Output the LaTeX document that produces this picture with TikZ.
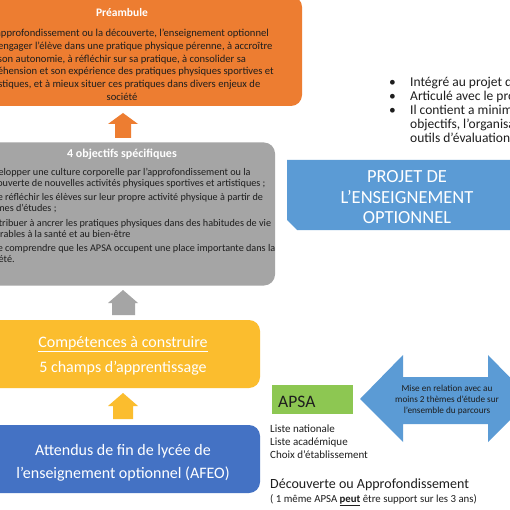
\documentclass[tikz,border=0pt]{standalone}
\usepackage{fontspec}
\setmainfont{Carlito}
\newcommand{\myul}[1]{\underline{#1}}
\definecolor{orangeC}{HTML}{ED7D31}
\definecolor{grayC}{HTML}{A5A5A5}
\definecolor{yellowC}{HTML}{FBBD2E}
\definecolor{blueD}{HTML}{4472C4}
\definecolor{blueL}{HTML}{5B9BD5}
\definecolor{greenC}{HTML}{8DC752}
\definecolor{txt}{HTML}{1E1E1E}
\tikzset{
  box/.style={rounded corners=11pt, inner sep=0pt},
  lbl/.style={inner sep=0pt}
}
\begin{document}
\begin{tikzpicture}[x=1pt,y=-1pt]
\useasboundingbox (0,0) rectangle (510,510);
\clip (0,0) rectangle (510,510);
\fill[white] (0,0) rectangle (510,510);

% Preambule box
\node[box, fill=orangeC, minimum width=360pt, minimum height=110pt] (pre) at (122,51) {};
\node[lbl, anchor=base, text=white, font=\fontsize{11.5}{13}\selectfont\bfseries] (pretitle) at (122,17) {Préambule};
\node[lbl, anchor=base, align=center, text=txt, font=\fontsize{10.6}{12.8}\selectfont] (pretext) at (122,100.5) {Par l’approfondissement ou la découverte, l’enseignement optionnel\\
vise à engager l’élève dans une pratique physique pérenne, à accroître\\
son autonomie, à réfléchir sur sa pratique, à consolider sa\\
compréhension et son expérience des pratiques physiques sportives et\\
artistiques, et à mieux situer ces pratiques dans divers enjeux de\\
société};

% up arrows
\fill[orangeC] (123,113) -- (138,124) -- (131,124) -- (131,138) -- (115,138) -- (115,124) -- (108,124) -- cycle;

% objectifs box
\node[box, fill=grayC, minimum width=310pt, minimum height=143pt] (obj) at (120,214) {};
\node[lbl, anchor=base, text=white, font=\fontsize{12}{13}\selectfont\bfseries] (objtitle) at (122,157.5) {4 objectifs spécifiques};
\node[lbl, anchor=base west, align=left, text=txt, font=\fontsize{10.2}{11}\selectfont] (objtext) at (-17.5,262.5) {Développer une culture corporelle par l’approfondissement ou la\\
découverte de nouvelles activités physiques sportives et artistiques ;\\[3.5pt]
Faire réfléchir les élèves sur leur propre activité physique à partir de\\
thèmes d’études ;\\[3.5pt]
Contribuer à ancrer les pratiques physiques dans des habitudes de vie\\
favorables à la santé et au bien-être\\[3.5pt]
Faire comprendre que les APSA occupent une place importante dans la\\
société.};

\fill[grayC] (123,290) -- (138,303) -- (135,303) -- (135,315) -- (112,315) -- (112,303) -- (108,303) -- cycle;

% competences box
\node[box, fill=yellowC, minimum width=276pt, minimum height=68pt] (comp) at (122,354) {};
\node[lbl, anchor=base, text=white, font=\fontsize{16}{18}\selectfont] (comptitle) at (123,347) {\myul{Compétences à construire}};
\node[lbl, anchor=base, text=white, font=\fontsize{16}{18}\selectfont] (compsub) at (123,372) {5 champs d’apprentissage};

\fill[yellowC] (123,393) -- (138,406) -- (133,406) -- (133,419) -- (113,419) -- (113,406) -- (108,406) -- cycle;

% AFEO box
\node[box, fill=blueD, minimum width=276pt, minimum height=68pt] (afeo) at (122,459) {};
\node[lbl, anchor=base, align=center, text=white, font=\fontsize{16}{23}\selectfont] (afeotext) at (123,478.5) {Attendus de fin de lycée de\\l’enseignement optionnel (AFEO)};

% bullets
\node[lbl, anchor=base west, align=left, text=txt, font=\fontsize{13.5}{14}\selectfont] (bul) at (389,143) {%
\makebox[21pt][l]{•}Intégré au projet d’établissement\\
\makebox[21pt][l]{•}Articulé avec le projet d’EPS\\
\makebox[21pt][l]{•}Il contient a minima les\\
\hspace*{21pt}objectifs, l’organisation des\\
\hspace*{21pt}outils d’évaluation};

% projet shape
\fill[blueL] (287,160) -- (530,160) -- (530,230) -- (297,230) -- (287,220) -- cycle;
\node[lbl, anchor=base, align=center, text=white, font=\fontsize{18.5}{20}\selectfont] (projtext) at (407,223) {PROJET DE\\L’ENSEIGNEMENT\\OPTIONNEL};

% APSA
\node[fill=greenC, minimum width=81pt, minimum height=29pt, inner sep=0pt] (apsa) at (312.5,399.5) {};
\node[lbl, anchor=base west, text=txt, font=\fontsize{17.5}{19}\selectfont] (apsatext) at (278,407) {APSA};
\node[lbl, anchor=base west, align=left, text=txt, font=\fontsize{11}{13}\selectfont] (liste) at (270,458) {Liste nationale\\Liste académique\\Choix d’établissement};
\node[lbl, anchor=base west, text=txt, font=\fontsize{14}{16}\selectfont] (decouv) at (270,488) {Découverte ou Approfondissement};
\node[lbl, anchor=base west, text=txt, font=\fontsize{10.8}{12}\selectfont] (meme) at (270,502) {( 1 même APSA \textbf{\myul{peut}} être support sur les 3 ans)};

% double arrow
\fill[blueL] (360,399) -- (403,355) -- (403,377) -- (488,377) -- (488,355) -- (531,399) -- (488,442) -- (488,424) -- (403,424) -- (403,442) -- cycle;
\node[lbl, anchor=base, align=center, text=txt, font=\fontsize{9.2}{11}\selectfont] (mise) at (447,413) {Mise en relation avec au\\moins 2 thèmes d’étude sur\\l’ensemble du parcours};
\end{tikzpicture}
\end{document}
